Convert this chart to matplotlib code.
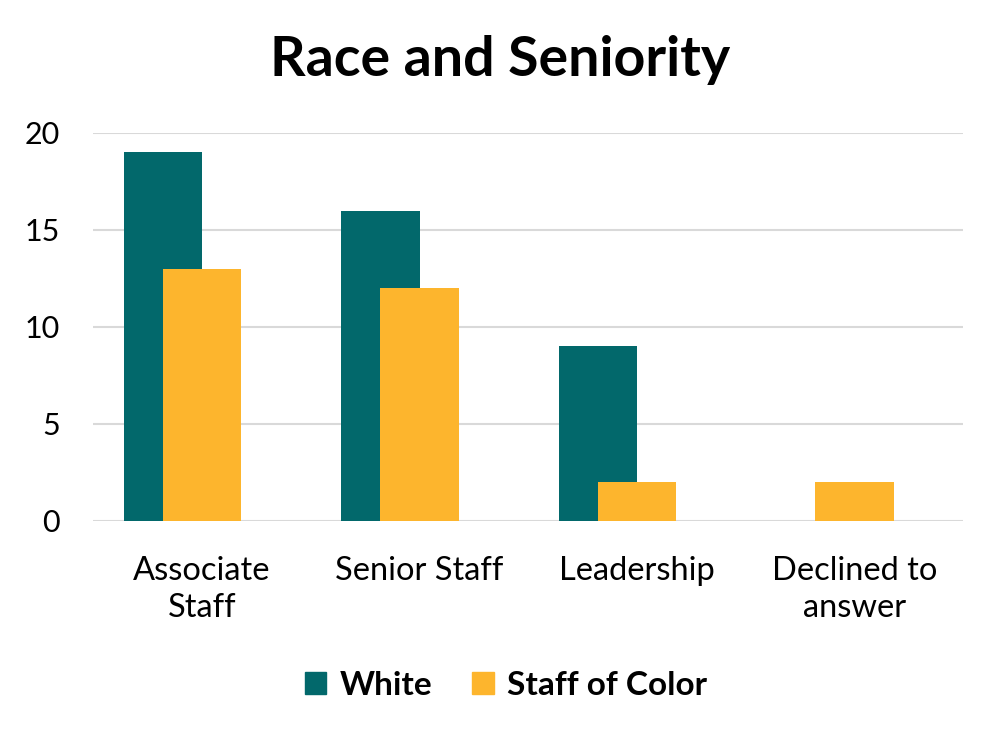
import numpy as np
import matplotlib
matplotlib.use('Agg')
import matplotlib.pyplot as plt
from matplotlib.patches import Patch

# data
categories = ['Associate\nStaff', 'Senior Staff', 'Leadership', 'Declined to\nanswer']
white = [19, 16, 9, 0]
staff_of_color = [13, 12, 2, 2]

teal = '#02686B'
yellow = '#FDB52D'

plt.rcParams['font.family'] = ['Lato', 'DejaVu Sans']

fig = plt.figure(figsize=(10, 7.36), dpi=100)
ax = fig.add_axes([0.093, 1 - 521 / 736, 0.870, (521 - 133) / 736])

x = np.arange(len(categories))
w = 0.361
off = 0.0897
ax.bar(x - off, white, width=w, color=teal, zorder=2, label='White')
ax.bar(x + off, staff_of_color, width=w, color=yellow, zorder=3, label='Staff of Color')

ax.set_xlim(-0.4115, 3.5885)
ax.set_ylim(0, 20)
ax.set_yticks([0, 5, 10, 15, 20])
ax.yaxis.grid(True, color='#D9D9D9', linewidth=1.5, zorder=0)
ax.set_axisbelow(True)
for s in ax.spines.values():
    s.set_visible(False)

ax.set_xticks(x + 0.0885)
ax.set_xticklabels(categories, fontsize=23.5, linespacing=1.3)
ax.tick_params(axis='both', length=0, colors='black')
ax.tick_params(axis='y', pad=24, labelsize=22)
ax.tick_params(axis='x', pad=25)

fig.text(0.5, 0.918, 'Race and Seniority', ha='center', va='center',
         fontsize=40, fontweight='bold')

handles = [Patch(color=teal, label='White'), Patch(color=yellow, label='Staff of Color')]
leg = fig.legend(handles=handles, loc='center', bbox_to_anchor=(0.506, 0.069), ncol=2,
                 frameon=False, prop={'weight': 'bold', 'size': 24},
                 handlelength=0.65, handleheight=0.65, handletextpad=0.4, columnspacing=1.2)

fig.savefig('out.png', dpi=100, facecolor='white')
